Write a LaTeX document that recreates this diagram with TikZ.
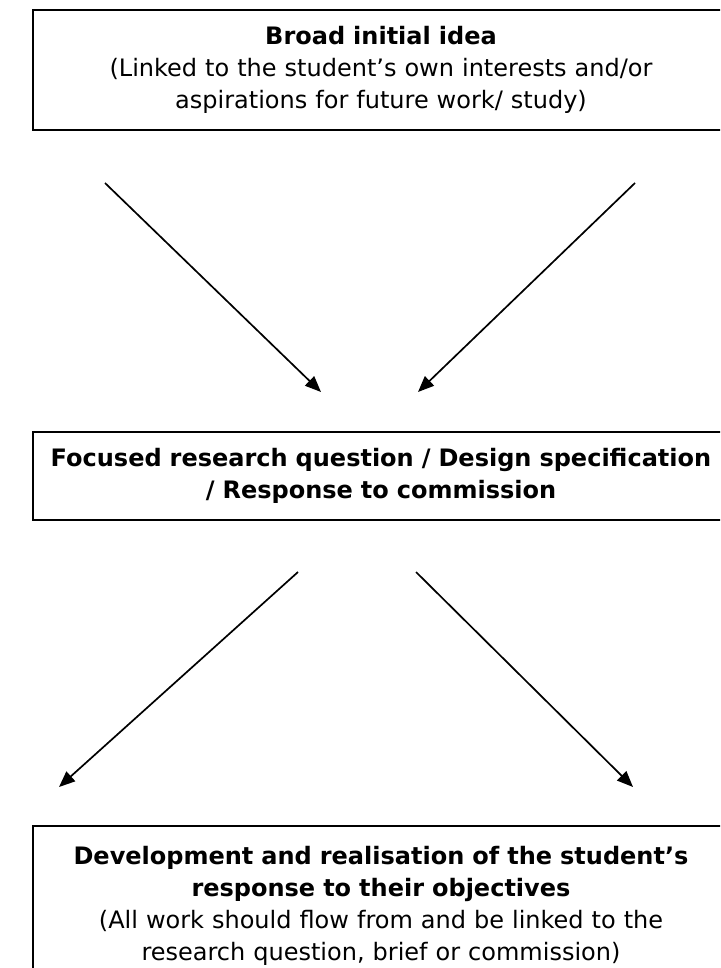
\documentclass[tikz,border=0pt]{standalone}
\usepackage{fontspec}
\setmainfont{DejaVu Sans}
\usetikzlibrary{arrows.meta}
\begin{document}
\begin{tikzpicture}[x=1pt,y=-1pt,
  box/.style={draw, line width=1.8pt, minimum width=696pt, text width=690pt,
    align=center, inner sep=0pt, font=\fontsize{24}{32}\selectfont},
  arr/.style={line width=1.7pt, -{Triangle[length=16pt,width=13pt]}}]
\useasboundingbox (0,0) rectangle (720,968);
\clip (0,0) rectangle (720,968);
\node[box, minimum height=120pt] (top) at (381,70)
  {\textbf{Broad initial idea}\\
   (Linked to the student’s own interests and/or\\
   aspirations for future work/ study)};
\node[box, minimum height=88pt] (mid) at (381,476)
  {\textbf{Focused research question / Design specification}\\
   \textbf{/ Response to commission}};
\node[box, minimum height=159pt] (bot) at (381,905.5)
  {\textbf{Development and realisation of the student’s}\\
   \textbf{response to their objectives}\\
   (All work should flow from and be linked to the\\
   research question, brief or commission)};
\coordinate (a1s) at (105,183);
\coordinate (a1e) at (321,392);
\coordinate (a2s) at (635,183);
\coordinate (a2e) at (418,392);
\coordinate (b1s) at (298,572);
\coordinate (b1e) at (59,787);
\coordinate (b2s) at (416,572);
\coordinate (b2e) at (633,787);
\draw[arr] (a1s) -- (a1e);
\draw[arr] (a2s) -- (a2e);
\draw[arr] (b1s) -- (b1e);
\draw[arr] (b2s) -- (b2e);
\end{tikzpicture}
\end{document}
